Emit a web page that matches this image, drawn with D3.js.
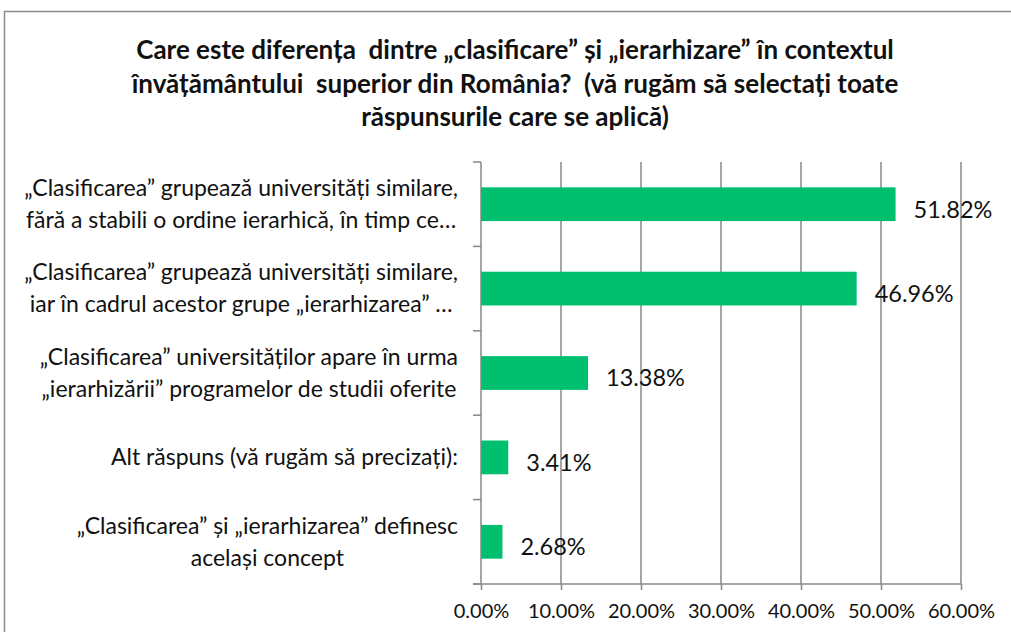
<!DOCTYPE html>
<html>
<head>
<meta charset="utf-8">
<script src="https://d3js.org/d3.v7.min.js"></script>
<style>
  body { margin: 0; background: #fff; overflow: hidden; }
  svg { display: block; font-family: Lato, "Open Sans", sans-serif; }
  text { white-space: pre; }
</style>
</head>
<body>
<svg id="chart" width="1011" height="632"></svg>
<script>
  // Data
  const titleLines = [
    "Care este diferența  dintre „clasificare” și „ierarhizare” în contextul",
    "învățământului  superior din România?  (vă rugăm să selectați toate",
    "răspunsurile care se aplică)"
  ];
  const categories = [
    ["„Clasificarea” grupează universități similare,", "fără a stabili o ordine ierarhică, în timp ce…"],
    ["„Clasificarea” grupează universități similare,", "iar în cadrul acestor grupe „ierarhizarea” …"],
    ["„Clasificarea” universităților apare în urma", "„ierarhizării” programelor de studii oferite"],
    ["Alt răspuns (vă rugăm să precizați):"],
    ["„Clasificarea” și „ierarhizarea” definesc", "același concept"]
  ];
  const values = [51.82, 46.96, 13.38, 3.41, 2.68];
  const xTicks = [0, 10, 20, 30, 40, 50, 60];

  const svg = d3.select("#chart");
  const margin = { left: 481, right: 50, top: 162, bottom: 48 };
  const width = 1011, height = 632;
  const axisColor = "#878787";

  // Outer chart frame (right and bottom edges fall outside the picture)
  svg.append("rect")
    .attr("x", 4.5).attr("y", 11.5)
    .attr("width", 1040).attr("height", 660)
    .attr("fill", "none")
    .attr("stroke", "#8c8c8c")
    .attr("stroke-width", 1.5);

  // Title
  svg.append("g")
    .selectAll("text")
    .data(titleLines)
    .join("text")
    .attr("x", 515)
    .attr("y", (d, i) => 59 + i * 33.5)
    .attr("text-anchor", "middle")
    .attr("font-weight", "bold")
    .attr("font-size", 26)
    .attr("fill", "#111")
    .text(d => d);

  const x = d3.scaleLinear()
    .domain([0, 60])
    .range([margin.left, width - margin.right]);

  const y = d3.scaleBand()
    .domain(d3.range(categories.length))
    .range([margin.top, height - margin.bottom])
    .paddingInner(0.6)
    .paddingOuter(0.3);

  const plotBottom = height - margin.bottom;

  // Vertical gridlines
  svg.append("g")
    .selectAll("line")
    .data(xTicks.slice(1))
    .join("line")
    .attr("x1", d => x(d)).attr("x2", d => x(d))
    .attr("y1", margin.top).attr("y2", plotBottom)
    .attr("stroke", axisColor)
    .attr("stroke-width", 1.5);

  // Bars
  svg.append("g")
    .selectAll("rect")
    .data(values)
    .join("rect")
    .attr("x", x(0))
    .attr("y", (d, i) => y(i))
    .attr("width", d => x(d) - x(0))
    .attr("height", y.bandwidth())
    .attr("fill", "#00bf6f");

  // X axis
  const xAxis = svg.append("g")
    .attr("transform", `translate(0,${plotBottom})`)
    .call(d3.axisBottom(x)
      .tickValues(xTicks)
      .tickFormat(d => d.toFixed(2) + "%")
      .tickSize(6)
      .tickSizeOuter(0));
  xAxis.select(".domain").attr("stroke", axisColor).attr("stroke-width", 1.5)
    .attr("d", `M${x(0) - 8},0H${x(60)}`);
  xAxis.selectAll(".tick line").attr("stroke", axisColor).attr("stroke-width", 1.5);
  xAxis.selectAll(".tick text")
    .attr("font-size", 20)
    .attr("font-family", "Lato, sans-serif")
    .attr("fill", "#111")
    .attr("dy", "1.25em");

  // Y axis: line plus tick marks at category boundaries
  const step = (plotBottom - margin.top) / categories.length;
  const yg = svg.append("g");
  yg.append("line")
    .attr("x1", x(0)).attr("x2", x(0))
    .attr("y1", margin.top).attr("y2", plotBottom)
    .attr("stroke", axisColor).attr("stroke-width", 1.5);
  yg.selectAll("line.tick")
    .data(d3.range(categories.length + 1))
    .join("line")
    .attr("class", "tick")
    .attr("x1", x(0) - 8).attr("x2", x(0))
    .attr("y1", d => margin.top + d * step)
    .attr("y2", d => margin.top + d * step)
    .attr("stroke", axisColor).attr("stroke-width", 1.5);

  // Category labels: block right-aligned, lines centred within it
  const labelRight = x(0) - 23;
  const lineH = 32;
  categories.forEach((lines, i) => {
    const g = svg.append("g");
    const texts = g.selectAll("text")
      .data(lines)
      .join("text")
      .attr("font-size", 23)
      .attr("fill", "#111")
      .attr("text-anchor", "middle")
      .text(d => d);
    let maxW = 0;
    texts.each(function () { maxW = Math.max(maxW, this.getComputedTextLength()); });
    const cy = y(i) + y.bandwidth() / 2;
    const top = cy - (lines.length - 1) * lineH / 2;
    texts
      .attr("x", labelRight - maxW / 2)
      .attr("y", (d, j) => top + j * lineH)
      .attr("dy", "0.34em");
  });

  // Value labels
  svg.append("g")
    .selectAll("text")
    .data(values)
    .join("text")
    .attr("x", d => x(d) + 18)
    .attr("y", (d, i) => y(i) + y.bandwidth() / 2 + 5)
    .attr("dy", "0.36em")
    .attr("font-size", 23.5)
    .attr("fill", "#111")
    .text(d => d.toFixed(2) + "%");
</script>
</body>
</html>
